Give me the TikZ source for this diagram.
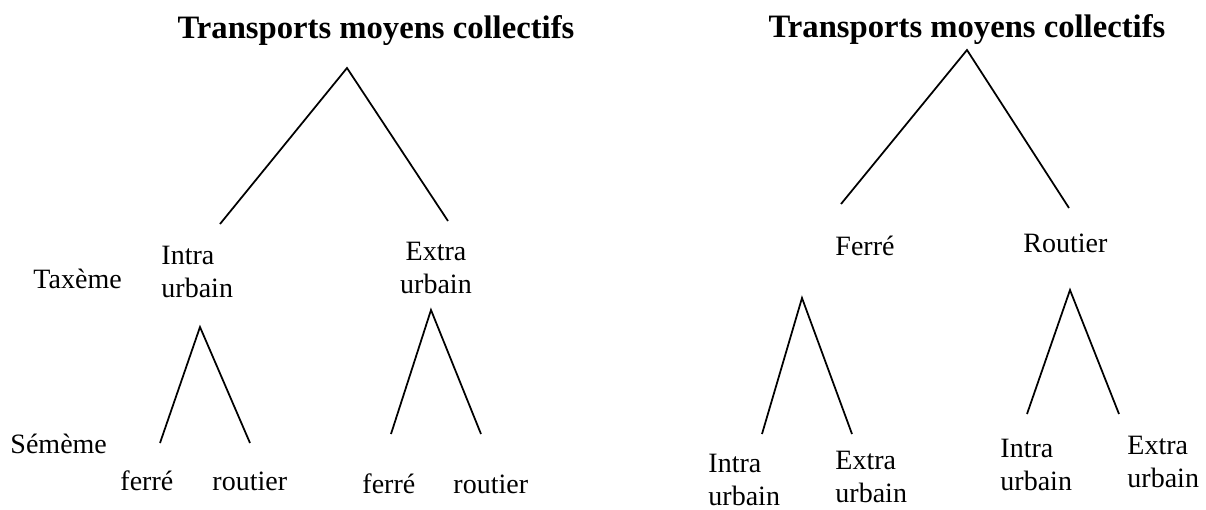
\documentclass[tikz,border=0pt]{standalone}
\usepackage{fontspec}
\setmainfont{Liberation Serif}
\begin{document}
\begin{tikzpicture}[x=0.42857pt, y=-0.42857pt,
  lbl/.style={anchor=base west, inner sep=0pt, align=left, font=\fontsize{12}{14}\selectfont},
  lblc/.style={anchor=base, inner sep=0pt, align=center, font=\fontsize{12}{14}\selectfont},
  ttl/.style={anchor=base, inner sep=0pt, font=\fontsize{14}{16}\selectfont\bfseries},
  branch/.style={draw=black, line width=0.75pt}]
\useasboundingbox (0,0) rectangle (1206,509);

% ---- first tree: split by zone, then by mode ----
% (multi-line labels are anchored at the baseline of their last line)
\node[ttl] (t1) at (376,38) {Transports moyens collectifs};
\node[lbl] (tax) at (33,288) {Taxème};
\node[lbl] (sem) at (10,453) {Sémème};
\node[lbl] (iu) at (161,297) {Intra\\urbain};
\node[lblc] (eu) at (436,293) {Extra\\urbain};
\node[lbl] (f1) at (120,490) {ferré};
\node[lbl] (r1) at (212,490) {routier};
\node[lbl] (f2) at (362,493) {ferré};
\node[lbl] (r2) at (453,493) {routier};

\coordinate (a1) at (347,68);
\coordinate (a1l) at (220,224);
\coordinate (a1r) at (448,221);
\coordinate (b1) at (200,327);
\coordinate (b1l) at (160,443);
\coordinate (b1r) at (250,443);
\coordinate (b2) at (431,310);
\coordinate (b2l) at (391,434);
\coordinate (b2r) at (481,434);

\draw[branch] (a1l) -- (a1) -- (a1r);
\draw[branch] (b1l) -- (b1) -- (b1r);
\draw[branch] (b2l) -- (b2) -- (b2r);

% ---- second tree: split by mode, then by zone ----
\node[ttl] (t2) at (967,37) {Transports moyens collectifs};
\node[lbl] (fe) at (835,255) {Ferré};
\node[lbl] (ro) at (1023,252) {Routier};
\node[lbl] (iu1) at (708,505) {Intra\\urbain};
\node[lbl] (eu1) at (835,502) {Extra\\urbain};
\node[lbl] (iu2) at (1000,490) {Intra\\urbain};
\node[lbl] (eu2) at (1127,487) {Extra\\urbain};

\coordinate (c0) at (967,50);
\coordinate (c0l) at (841,204);
\coordinate (c0r) at (1069,208);
\coordinate (c1) at (802,298);
\coordinate (c1l) at (762,434);
\coordinate (c1r) at (852,434);
\coordinate (c2) at (1070,290);
\coordinate (c2l) at (1027,414);
\coordinate (c2r) at (1119,414);

\draw[branch] (c0l) -- (c0) -- (c0r);
\draw[branch] (c1l) -- (c1) -- (c1r);
\draw[branch] (c2l) -- (c2) -- (c2r);
\end{tikzpicture}
\end{document}
